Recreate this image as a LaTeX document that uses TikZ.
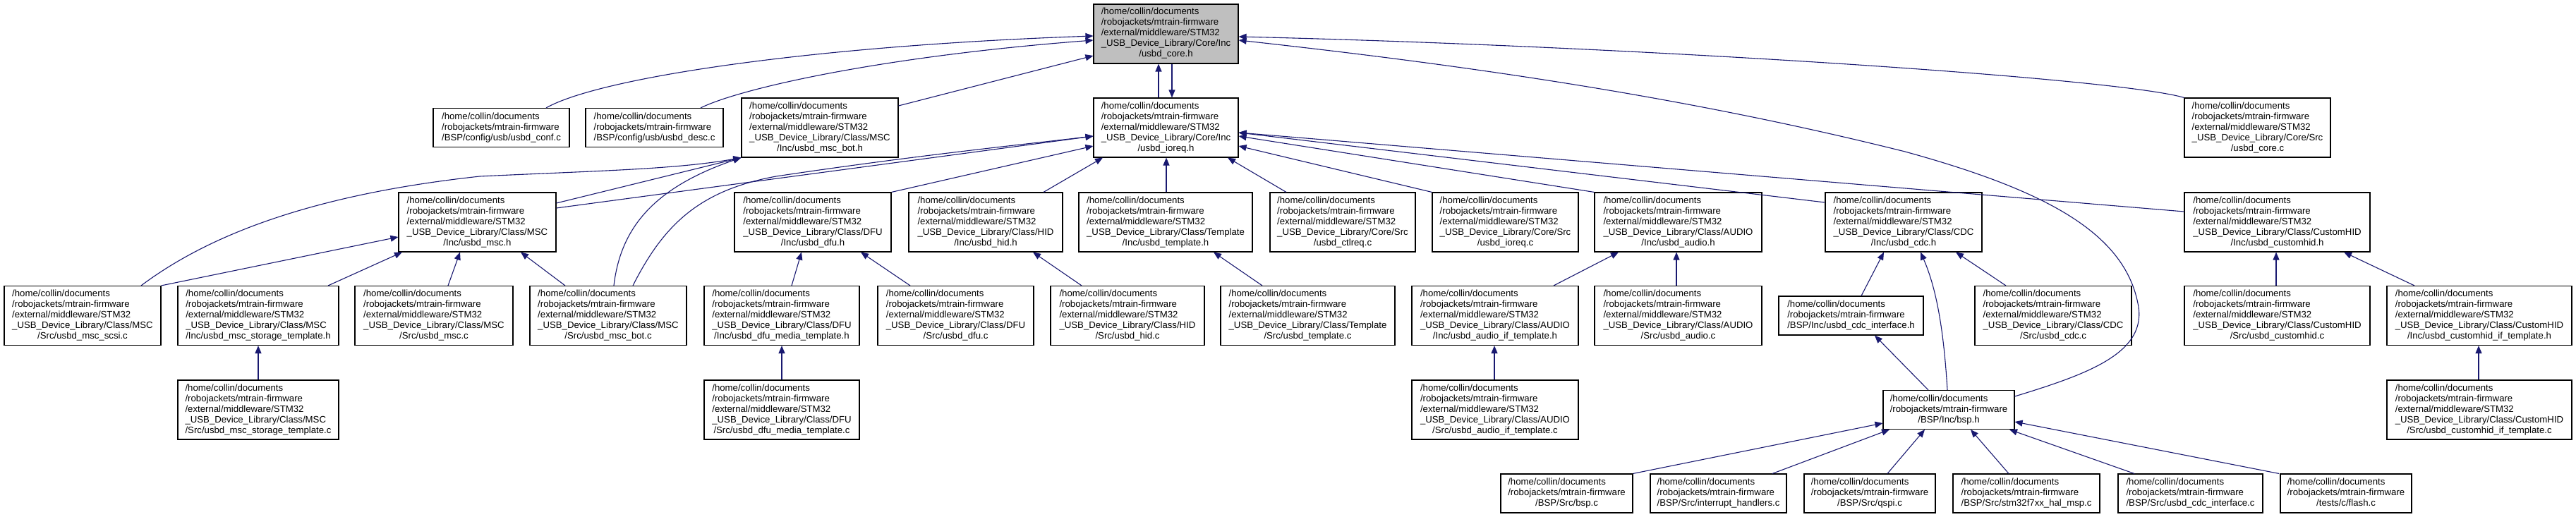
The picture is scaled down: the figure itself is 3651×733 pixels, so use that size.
\documentclass[tikz,border=0pt]{standalone}
\usepackage{fontspec}
\newfontfamily\dfont{Liberation Sans}
\usetikzlibrary{arrows.meta}
\definecolor{edgeblue}{HTML}{191970}
\definecolor{rootgray}{HTML}{BFBFBF}
\newcommand{\fivel}[2]{\begin{tabular}{@{}l@{}}/home/collin/documents\\/robojackets/mtrain-firmware\\/external/middleware/STM32\\\_USB\_Device\_Library/#1\\\multicolumn{1}{@{}c@{}}{#2}\end{tabular}}
\newcommand{\threel}[1]{\begin{tabular}{@{}l@{}}/home/collin/documents\\/robojackets/mtrain-firmware\\\multicolumn{1}{@{}c@{}}{#1}\end{tabular}}
\tikzset{
  box/.style={draw=black, line width=1.1pt, fill=white, inner xsep=3pt, inner ysep=2pt, font={\dfont\fontsize{13.2}{15}\selectfont}},
  five/.style={box, minimum height=84pt, minimum width=#1pt},
  three/.style={box, minimum height=55pt, minimum width=#1pt},
  edge/.style={draw=edgeblue, line width=1.1pt, -{Triangle[length=11pt,width=9pt]}, fill=none}
}
\begin{document}
\begin{tikzpicture}[x=1pt,y=-1pt]
\useasboundingbox (0,0) rectangle (3651,733);
% row 0
\node[five=205, fill=rootgray] (coreh) at (1652.5,48) {\fivel{Core/Inc}{/usbd\_core.h}};
% row 1
\node[three=193] (conf) at (710.5,181) {\threel{/BSP/config/usb/usbd\_conf.c}};
\node[three=195] (desc) at (927.5,181) {\threel{/BSP/config/usb/usbd\_desc.c}};
\node[five=222] (mscboth) at (1162,181) {\fivel{Class/MSC}{/Inc/usbd\_msc\_bot.h}};
\node[five=205] (ioreqh) at (1652.5,181) {\fivel{Core/Inc}{/usbd\_ioreq.h}};
\node[five=207] (corec) at (3199.5,181) {\fivel{Core/Src}{/usbd\_core.c}};
% row 2
\node[five=223] (msch) at (676.5,315) {\fivel{Class/MSC}{/Inc/usbd\_msc.h}};
\node[five=222] (dfuh) at (1152,315) {\fivel{Class/DFU}{/Inc/usbd\_dfu.h}};
\node[five=218] (hidh) at (1397,315) {\fivel{Class/HID}{/Inc/usbd\_hid.h}};
\node[five=246] (templateh) at (1652,315) {\fivel{Class/Template}{/Inc/usbd\_template.h}};
\node[five=206] (ctlreqc) at (1903,315) {\fivel{Core/Src}{/usbd\_ctlreq.c}};
\node[five=207] (ioreqc) at (2133.5,315) {\fivel{Core/Src}{/usbd\_ioreq.c}};
\node[five=237] (audioh) at (2378.5,315) {\fivel{Class/AUDIO}{/Inc/usbd\_audio.h}};
\node[five=222] (cdch) at (2698,315) {\fivel{Class/CDC}{/Inc/usbd\_cdc.h}};
\node[five=263] (customhidh) at (3227.5,315) {\fivel{Class/CustomHID}{/Inc/usbd\_customhid.h}};
% row 3
\node[five=222] (mscscsic) at (117,447.5) {\fivel{Class/MSC}{/Src/usbd\_msc\_scsi.c}};
\node[five=228] (mscsth) at (366,447.5) {\fivel{Class/MSC}{/Inc/usbd\_msc\_storage\_template.h}};
\node[five=224] (mscc) at (615,447.5) {\fivel{Class/MSC}{/Src/usbd\_msc.c}};
\node[five=222] (mscbotc) at (862,447.5) {\fivel{Class/MSC}{/Src/usbd\_msc\_bot.c}};
\node[five=220] (dfumth) at (1108,447.5) {\fivel{Class/DFU}{/Inc/usbd\_dfu\_media\_template.h}};
\node[five=221] (dfuc) at (1354.5,447.5) {\fivel{Class/DFU}{/Src/usbd\_dfu.c}};
\node[five=218] (hidc) at (1598,447.5) {\fivel{Class/HID}{/Src/usbd\_hid.c}};
\node[five=247] (templatec) at (1853.5,447.5) {\fivel{Class/Template}{/Src/usbd\_template.c}};
\node[five=236] (audioifth) at (2119,447.5) {\fivel{Class/AUDIO}{/Inc/usbd\_audio\_if\_template.h}};
\node[five=237] (audioc) at (2378.5,447.5) {\fivel{Class/AUDIO}{/Src/usbd\_audio.c}};
\node[three=205] (cdcifh) at (2623.5,447.5) {\threel{/BSP/Inc/usbd\_cdc\_interface.h}};
\node[five=222] (cdcc) at (2910,447.5) {\fivel{Class/CDC}{/Src/usbd\_cdc.c}};
\node[five=263] (customhidc) at (3227.5,447.5) {\fivel{Class/CustomHID}{/Src/usbd\_customhid.c}};
\node[five=262] (customhidifth) at (3514,447.5) {\fivel{Class/CustomHID}{/Inc/usbd\_customhid\_if\_template.h}};
% row 4
\node[five=228] (mscstc) at (366,581) {\fivel{Class/MSC}{/Src/usbd\_msc\_storage\_template.c}};
\node[five=220] (dfumtc) at (1108,581) {\fivel{Class/DFU}{/Src/usbd\_dfu\_media\_template.c}};
\node[five=236] (audioiftc) at (2119,581) {\fivel{Class/AUDIO}{/Src/usbd\_audio\_if\_template.c}};
\node[three=186] (bsph) at (2762,581) {\threel{/BSP/Inc/bsp.h}};
\node[five=262] (customhidiftc) at (3514,581) {\fivel{Class/CustomHID}{/Src/usbd\_customhid\_if\_template.c}};
% row 5
\node[three=187] (bspc) at (2220.5,699.5) {\threel{/BSP/Src/bsp.c}};
\node[three=193] (interruptc) at (2435.5,699.5) {\threel{/BSP/Src/interrupt\_handlers.c}};
\node[three=186] (qspic) at (2650,699.5) {\threel{/BSP/Src/qspi.c}};
\node[three=208] (halmspc) at (2872,699.5) {\threel{/BSP/Src/stm32f7xx\_hal\_msp.c}};
\node[three=205] (cdcifc) at (3104.5,699.5) {\threel{/BSP/Src/usbd\_cdc\_interface.c}};
\node[three=186] (flashc) at (3325,699.5) {\threel{/tests/c/flash.c}};

% edges into usbd_core.h
\draw[edge] (conf.north -| 774,0) .. controls (850,110) and (1150,65) .. (coreh.west |- 0,51);
\draw[edge] (desc.north -| 993,0) .. controls (1050,125) and (1250,80) .. (coreh.west |- 0,57);
\draw[edge] (mscboth.east |- 0,150) -- (coreh.west |- 0,79);
\draw[edge] (ioreqh.north -| 1642,0) -- (coreh.south -| 1642,0);
\draw[edge] (coreh.south -| 1661,0) -- (ioreqh.north -| 1661,0);
\draw[edge] (corec.north west) .. controls (3000,110) and (2300,65) .. (coreh.east |- 0,52);
\draw[edge] (bsph.east |- 0,562) .. controls (2960,530) and (3045,500) .. (3030,430) .. controls (3010,330) and (2900,270) .. (2700,215) .. controls (2400,140) and (2100,95) .. (coreh.east |- 0,57);
% MSC
\draw[edge] (mscscsic.north -| 200,0) .. controls (300,330) and (450,275) .. (680,250) .. controls (850,242) and (960,240) .. (mscboth.south west);
\draw[edge] (mscscsic.north east) -- (msch.west |- 0,336);
\draw[edge] (mscsth.north -| 465,0) -- (msch.south -| 570,0);
\draw[edge] (mscc.north -| 635,0) -- (msch.south -| 652,0);
\draw[edge] (mscbotc.north -| 801,0) -- (msch.south -| 738,0);
\draw[edge] (mscbotc.north -| 870,0) .. controls (880,320) and (930,265) .. (mscboth.south west);
\draw[edge] (mscbotc.north -| 897,0) .. controls (940,320) and (990,270) .. (1100,250) .. controls (1300,220) and (1450,205) .. (ioreqh.west |- 0,193);
\draw[edge] (msch.east |- 0,288) -- (mscboth.south west);
\draw[edge] (msch.east |- 0,295) -- (ioreqh.west |- 0,193);
\draw[edge] (mscstc.north -| 366,0) -- (mscsth.south -| 366,0);
% DFU
\draw[edge] (dfuh.north east) -- (ioreqh.west |- 0,207);
\draw[edge] (dfumth.north -| 1122,0) -- (dfuh.south -| 1136,0);
\draw[edge] (dfuc.north -| 1290,0) -- (dfuh.south -| 1220,0);
\draw[edge] (dfumtc.north -| 1108,0) -- (dfumth.south -| 1108,0);
% HID, Template, Core/Src
\draw[edge] (hidh.north -| 1479,0) -- (ioreqh.south -| 1563,0);
\draw[edge] (hidc.north -| 1533,0) -- (hidh.south -| 1464,0);
\draw[edge] (templateh.north -| 1653,0) -- (ioreqh.south -| 1653,0);
\draw[edge] (templatec.north -| 1789,0) -- (templateh.south -| 1720,0);
\draw[edge] (ctlreqc.north -| 1823,0) -- (ioreqh.south -| 1740,0);
\draw[edge] (ioreqc.north west) -- (ioreqh.east |- 0,207);
% AUDIO
\draw[edge] (audioh.north west) -- (ioreqh.east |- 0,193);
\draw[edge] (audioifth.north -| 2202,0) -- (audioh.south -| 2294,0);
\draw[edge] (audioc.north -| 2376,0) -- (audioh.south -| 2376,0);
\draw[edge] (audioiftc.north -| 2118,0) -- (audioifth.south -| 2118,0);
% CDC
\draw[edge] (cdch.west |- 0,287) -- (ioreqh.east |- 0,188);
\draw[edge] (cdcifh.north -| 2638,0) -- (cdch.south -| 2670,0);
\draw[edge] (bsph.north -| 2760,0) .. controls (2755,470) and (2745,410) .. (cdch.south -| 2722,0);
\draw[edge] (bsph.north -| 2733,0) -- (cdcifh.south -| 2657,0);
\draw[edge] (cdcc.north -| 2843,0) -- (cdch.south -| 2772,0);
% CustomHID
\draw[edge] (customhidh.west |- 0,300) -- (ioreqh.east |- 0,188);
\draw[edge] (customhidc.north -| 3226,0) -- (customhidh.south -| 3226,0);
\draw[edge] (customhidifth.north -| 3422,0) -- (customhidh.south -| 3322,0);
\draw[edge] (customhidiftc.north -| 3513,0) -- (customhidifth.south -| 3513,0);
% bsp.h
\draw[edge] (bspc.north east) -- (bsph.west |- 0,600);
\draw[edge] (interruptc.north -| 2512,0) -- (bsph.south -| 2678,0);
\draw[edge] (qspic.north -| 2675,0) -- (bsph.south -| 2728,0);
\draw[edge] (halmspc.north -| 2847,0) -- (bsph.south -| 2793,0);
\draw[edge] (cdcifc.north -| 3025,0) -- (bsph.south -| 2848,0);
\draw[edge] (flashc.north -| 3230,0) -- (bsph.east |- 0,598);
\end{tikzpicture}
\end{document}
